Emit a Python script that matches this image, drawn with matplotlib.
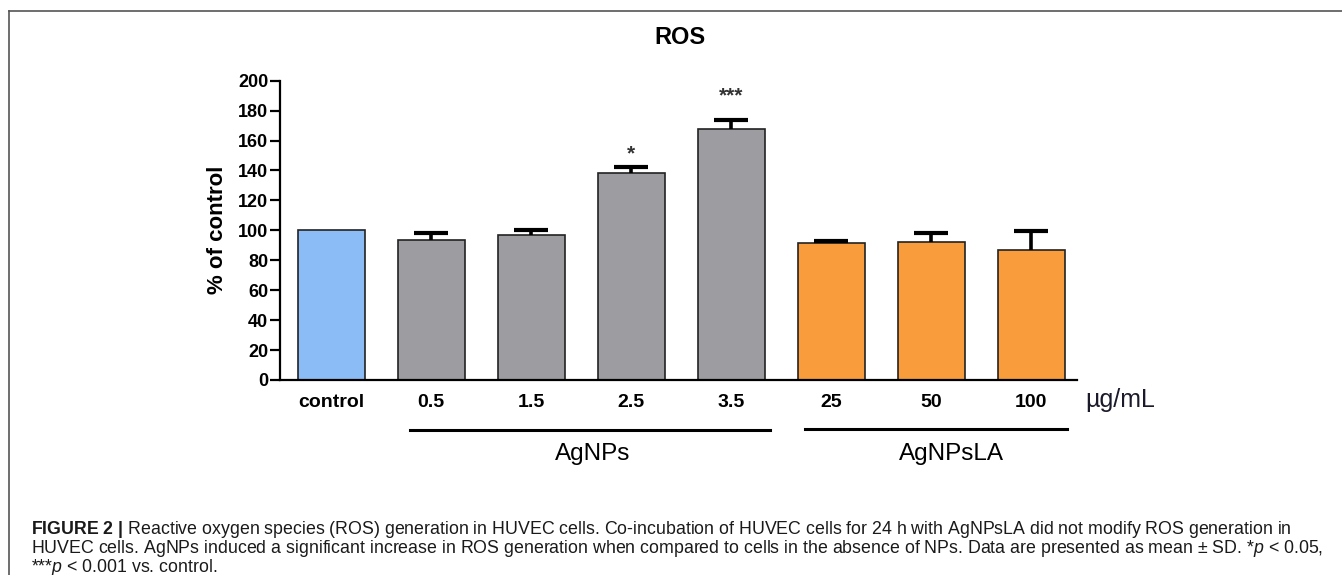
import matplotlib
matplotlib.use("Agg")
import matplotlib.pyplot as plt
from matplotlib.lines import Line2D

# ---------------------------------------------------------------------
# Data
# ---------------------------------------------------------------------
categories = ["control", "0.5", "1.5", "2.5", "3.5", "25", "50", "100"]
ros_mean = [100, 93.5, 97, 138.5, 168, 91.5, 92.5, 87]
ros_sd = [0, 5, 3, 4, 6, 1.5, 6, 12.5]
bar_colors = ["#8bbcf5"] + ["#9d9ca1"] * 4 + ["#f99c3c"] * 3
sig_labels = ["", "", "", "*", "***", "", "", ""]
sig_heights = [0, 0, 0, 151, 190, 0, 0, 0]

groups = ["AgNPs", "AgNPsLA"]

caption = [
    r"$\mathbf{FIGURE\ 2\ |}$ Reactive oxygen species (ROS) generation in HUVEC cells. "
    "Co-incubation of HUVEC cells for 24 h with AgNPsLA did not modify ROS generation in",
    "HUVEC cells. AgNPs induced a significant increase in ROS generation when compared to "
    r"cells in the absence of NPs. Data are presented as mean ± SD. *$\mathit{p}$ < 0.05,",
    r"***$\mathit{p}$ < 0.001 vs. control.",
]

# ---------------------------------------------------------------------
# Figure setup
# ---------------------------------------------------------------------
plt.rcParams["font.family"] = ["Liberation Sans", "DejaVu Sans"]
plt.rcParams["mathtext.fontset"] = "custom"
plt.rcParams["mathtext.rm"] = "Liberation Sans"
plt.rcParams["mathtext.it"] = "Liberation Sans:italic"
plt.rcParams["mathtext.bf"] = "Liberation Sans:bold"

W, H = 1342, 575


def fx(x):
    return x / W


def fy(y):
    return 1 - y / H


fig = plt.figure(figsize=(W / 100, H / 100), dpi=100)
ax = fig.add_axes([fx(280), fy(380), fx(1077) - fx(280), fy(80.7) - fy(380)])

x = list(range(len(categories)))
ax.bar(x, ros_mean, width=0.67, color=bar_colors, edgecolor="#222222",
       linewidth=1.2, zorder=2)

# upper SD only, and none for the control bar
ex = [i for i in x if ros_sd[i] > 0]
eb = ax.errorbar(ex, [ros_mean[i] for i in ex],
                 yerr=[[0] * len(ex), [ros_sd[i] for i in ex]], fmt="none",
                 ecolor="black", elinewidth=2.6, capsize=12, capthick=3, zorder=3)
eb[1][0].set_visible(False)

for i, (lab, h) in enumerate(zip(sig_labels, sig_heights)):
    if lab:
        ax.text(i, h, lab, ha="center", va="center", fontsize=15,
                color="#333333", fontweight="bold")

ax.set_xlim(-0.51, 7.46)
ax.set_ylim(0, 200)
ax.set_yticks(range(0, 201, 20))
ax.set_xticks(x)
ax.set_xticklabels(categories, fontsize=14, fontweight="bold")
for lbl in ax.get_yticklabels():
    lbl.set_fontweight("bold")
    lbl.set_fontsize(13)
ax.tick_params(axis="x", length=0, pad=10)
ax.tick_params(axis="y", length=7, width=1.6, pad=1.5)
for s in ["top", "right"]:
    ax.spines[s].set_visible(False)
for s in ["left", "bottom"]:
    ax.spines[s].set_linewidth(1.6)

# ---------------------------------------------------------------------
# Labels & annotations
# ---------------------------------------------------------------------
fig.text(fx(680), fy(38), "ROS", ha="center", va="center",
         fontsize=17, fontweight="bold")
fig.text(fx(218), fy(230), "% of control", rotation=90, ha="center",
         va="center", fontsize=16, fontweight="bold")
fig.text(fx(1085), fy(400), "µg/mL", ha="left", va="center", fontsize=18,
         color="#1a1a2a")

# group underlines
fig.add_artist(Line2D([fx(410), fx(770)], [fy(430), fy(430)], color="black", lw=2.2))
fig.add_artist(Line2D([fx(805), fx(1067)], [fy(429), fy(429)], color="black", lw=2.2))
fig.text(fx(593), fy(460), groups[0], ha="center", va="baseline", fontsize=17.5)
fig.text(fx(951), fy(460), groups[1], ha="center", va="baseline", fontsize=17.5)

# frame (top and left edges only)
fig.add_artist(Line2D([fx(9), 1], [fy(11), fy(11)], color="#555555", lw=1.2))
fig.add_artist(Line2D([fx(9), fx(9)], [fy(11), 0], color="#555555", lw=1.2))

# caption
for k, line in enumerate(caption):
    fig.text(fx(31), fy(534 + k * 18.8), line, ha="left", va="baseline",
             fontsize=12.8, color="#1a1a1a")

fig.savefig("out.png", dpi=100)
